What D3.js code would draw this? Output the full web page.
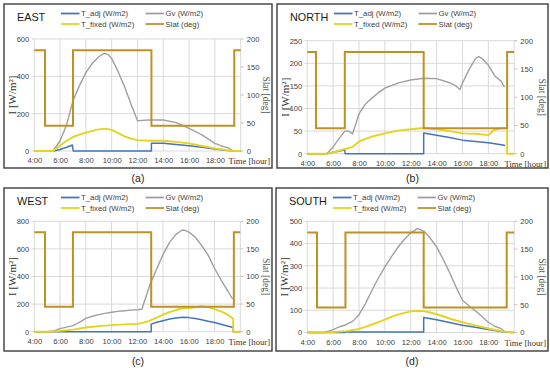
<!DOCTYPE html>
<html>
<head>
<meta charset="utf-8">
<script src="https://d3js.org/d3.v7.min.js"></script>
<style>
  body { margin: 0; background: #fff; }
  svg { display: block; }
</style>
</head>
<body>
<svg id="chart" width="550" height="368"></svg>
<script>
// ---- data: [hour, value] ----
var eastAdj = [[4,0],[5.5,0],[6,8],[6.5,20],[6.95,32],[7.02,0],[13.08,0],[13.08,42],[14,41],[15,35],[16,28],[17,20],[18,11],[19,3],[19.5,0],[20,0]];
var eastGv = [[4,0],[5.45,0],[6,55],[6.5,140],[7,270],[7.5,350],[8,420],[8.5,470],[9,505],[9.4,523],[9.7,518],[10,495],[10.5,425],[11,344],[11.5,250],[12,162],[13,167],[14,166],[15,152],[16,121],[17,86],[18,41],[18.5,27],[19,18],[19.35,5]];
var eastFixed = [[4,0],[5.45,0],[6,30],[6.5,55],[7,75],[7.5,88],[8,98],[8.5,108],[9,116],[9.5,120],[10,113],[10.5,96],[11,78],[11.5,66],[12,58],[13,55],[14,55],[15,49],[16,41],[17,27],[18,14],[19,4],[19.5,0],[20,0]];
var eastSlat = [[4,180],[4.83,180],[4.83,45],[7,45],[7,180],[13.08,180],[13.08,45],[19.5,45],[19.5,180],[20,180]];

var northAdj = [[4,0],[5.5,0],[6,3],[6.5,6],[6.9,8],[6.92,0],[13,0],[13,46],[14,41],[15,36],[16,30],[17,27],[18,24],[19,20],[19.3,18]];
var northGv = [[4,0],[5.5,0],[6,15],[6.5,35],[6.9,50],[7.2,50],[7.5,44],[8,88],[8.5,110],[9,123],[9.5,135],[10,145],[11,156],[12,163],[13,167],[14,166],[15,157],[15.5,150],[15.8,142],[16,156],[16.5,186],[17,210],[17.25,215],[17.5,211],[18,196],[18.5,172],[19,160],[19.25,147]];
var northFixed = [[4,0],[5.5,0],[6,3],[6.5,7],[7,11],[7.5,15],[8,27],[8.5,33],[9,38],[10,45],[11,51],[12,54],[13,57],[14,54],[15,50],[16,45],[17,44],[18,41],[18.4,52],[19,56],[19.45,56],[19.45,0],[20,0]];
var northSlat = [[4,180],[4.67,180],[4.67,45],[6.9,45],[6.9,180],[13,180],[13,45],[19.45,45],[19.45,180],[20,180]];

var westAdj = [[4,0],[13.08,0],[13.08,55],[13.5,68],[14,80],[14.5,92],[15,100],[15.5,104],[16,102],[16.5,95],[17,86],[17.5,76],[18,66],[18.5,54],[19,42],[19.45,30],[19.45,0],[20,0]];
var westGv = [[4,0],[5,0],[5.5,5],[6,22],[6.5,33],[7,44],[7.5,68],[8,97],[8.5,112],[9,124],[9.5,133],[10,141],[10.5,147],[11,152],[11.5,156],[12,159],[12.35,163],[13,345],[13.5,455],[14,560],[14.5,645],[15,705],[15.5,737],[15.75,733],[16,722],[16.5,685],[17,625],[17.5,555],[18,460],[18.5,375],[19,300],[19.4,237]];
var westFixed = [[4,0],[5,0],[6,6],[7,15],[8,30],[9,40],[10,48],[11,53],[12,57],[12.5,66],[13,80],[13.5,102],[14,123],[14.5,142],[15,157],[15.5,170],[16,172],[16.5,177],[17,184],[17.5,178],[18,164],[18.5,148],[19,125],[19.45,93],[19.45,0],[20,0]];
var westSlat = [[4,180],[4.83,180],[4.83,45],[7,45],[7,180],[13.08,180],[13.08,45],[19.5,45],[19.5,180],[20,180]];

var southAdj = [[4,0],[6.9,0],[6.9,2],[13,2],[13,67],[14,57],[15,45],[16,33],[17,24],[18,14],[19,5],[19.4,2],[20,0]];
var southGv = [[4,0],[5.3,0],[6,13],[6.5,26],[7,35],[7.5,50],[8,80],[8.5,130],[9,190],[9.5,245],[10,295],[10.5,340],[11,383],[11.5,418],[12,448],[12.5,467],[13,456],[13.5,425],[14,385],[14.5,330],[15,270],[15.5,205],[16,145],[16.5,120],[17,98],[17.5,72],[18,46],[18.5,28],[19,17],[19.3,3]];
var southFixed = [[4,0],[5.5,0],[6,2],[7,6],[8,16],[8.5,25],[9,36],[9.5,47],[10,58],[10.5,70],[11,80],[11.5,88],[12,95],[12.5,98],[13,96],[13.5,90],[14,82],[14.5,73],[15,63],[15.5,54],[16,46],[16.5,39],[17,32],[18,18],[19,6],[19.4,3],[20,0]];
var southSlat = [[4,180],[4.75,180],[4.75,45],[6.95,45],[6.95,180],[13,180],[13,45],[19.42,45],[19.42,180],[20,180]];

var hourTicks = [4, 6, 8, 10, 12, 14, 16, 18];
var slatTicks = [0, 50, 100, 150, 200];
var eastTicks = [0, 200, 400, 600];
var northTicks = [0, 50, 100, 150, 200, 250];
var westTicks = [0, 200, 400, 600, 800];
var southTicks = [0, 100, 200, 300, 400, 500];

var legendNames = ["T_adj (W/m2)", "Gv (W/m2)", "T_fixed (W/m2)", "Slat (deg)"];
var colors = ["#4472c4", "#a0a0a0", "#e2d51c", "#c09024"];

// ---- layout ----
var panels = [
  { title: "EAST", tag: "(a)", frame: [4, 4, 268, 164], plot: [34.3, 240.7, 39, 151], ticks: eastTicks,
    series: [eastAdj, eastGv, eastFixed], slat: eastSlat },
  { title: "NORTH", tag: "(b)", frame: [277, 4, 271, 164], plot: [307.3, 514.2, 40.7, 153.7], ticks: northTicks,
    series: [northAdj, northGv, northFixed], slat: northSlat },
  { title: "WEST", tag: "(c)", frame: [4, 188, 268, 163], plot: [34.3, 240.3, 221.3, 331.7], ticks: westTicks,
    series: [westAdj, westGv, westFixed], slat: westSlat },
  { title: "SOUTH", tag: "(d)", frame: [276, 188, 272, 163], plot: [307.3, 514.2, 221.3, 332.5], ticks: southTicks,
    series: [southAdj, southGv, southFixed], slat: southSlat }
];

var svg = d3.select("#chart");
var sans = "'Liberation Sans', Arial, sans-serif";
var serif = "'Liberation Serif', 'Times New Roman', serif";

function fmtHour(h) { return h + ":00"; }

panels.forEach(function (p) {
  var g = svg.append("g");
  var fx = p.frame[0], fy = p.frame[1];

  var x = d3.scaleLinear().domain([4, 20]).range([p.plot[0], p.plot[1]]);
  var y = d3.scaleLinear().domain([0, d3.max(p.ticks)]).range([p.plot[3], p.plot[2]]);
  var y2 = d3.scaleLinear().domain([0, 200]).range([p.plot[3], p.plot[2]]);

  // frame
  g.append("rect")
    .attr("x", fx).attr("y", fy)
    .attr("width", p.frame[2]).attr("height", p.frame[3])
    .attr("fill", "none").attr("stroke", "#3c3c3c").attr("stroke-width", 1.4);

  // grid
  g.append("g").selectAll("line").data(p.ticks).enter().append("line")
    .attr("x1", x(4) - 3).attr("x2", x(20))
    .attr("y1", function (d) { return y(d); }).attr("y2", function (d) { return y(d); })
    .attr("stroke", "#d9d9d9").attr("stroke-width", 1);
  g.append("g").selectAll("line").data(d3.range(4, 21, 2)).enter().append("line")
    .attr("x1", function (d) { return x(d); }).attr("x2", function (d) { return x(d); })
    .attr("y1", y(d3.max(p.ticks))).attr("y2", y(0))
    .attr("stroke", "#d9d9d9").attr("stroke-width", 1);
  // right ticks
  g.append("g").selectAll("line").data(slatTicks).enter().append("line")
    .attr("x1", x(20)).attr("x2", x(20) + 3)
    .attr("y1", function (d) { return y2(d); }).attr("y2", function (d) { return y2(d); })
    .attr("stroke", "#bfbfbf");

  // axis labels
  var left = d3.axisLeft(y).tickValues(p.ticks).tickSize(0).tickPadding(5);
  var la = g.append("g").attr("transform", "translate(" + x(4) + ",0)").call(left);
  var right = d3.axisRight(y2).tickValues(slatTicks).tickSize(0).tickPadding(6);
  var ra = g.append("g").attr("transform", "translate(" + x(20) + ",0)").call(right);
  var bottom = d3.axisBottom(x).tickValues(hourTicks).tickFormat(fmtHour).tickSize(0).tickPadding(7);
  var ba = g.append("g").attr("transform", "translate(0," + y(0) + ")").call(bottom);
  [la, ra, ba].forEach(function (a) {
    a.select(".domain").remove();
    a.selectAll("text").attr("font-family", sans).attr("font-size", 7.6).attr("fill", "#404040");
  });

  // axis titles
  g.append("text")
    .attr("transform", "translate(" + (fx + 11.5) + "," + ((p.plot[2] + p.plot[3]) / 2) + ") rotate(-90)")
    .attr("text-anchor", "middle").attr("font-family", serif).attr("font-size", 11)
    .attr("fill", "#333").text("I [W/m²]");
  g.append("text")
    .attr("transform", "translate(" + (fx + p.frame[2] - 9) + "," + ((p.plot[2] + p.plot[3]) / 2) + ") rotate(90)")
    .attr("text-anchor", "middle").attr("font-family", serif).attr("font-size", 9.5)
    .attr("fill", "#555").text("Slat [deg]");
  g.append("text")
    .attr("x", fx + p.frame[2] - 2).attr("y", y(0) + 13)
    .attr("text-anchor", "end").attr("font-family", serif).attr("font-size", 8.6)
    .attr("fill", "#333").text("Time [hour]");

  // series
  var line = d3.line().x(function (d) { return x(d[0]); }).y(function (d) { return y(d[1]); });
  var widths = [1.5, 1.4, 1.9];
  p.series.forEach(function (s, i) {
    g.append("path").attr("d", line(s))
      .attr("fill", "none").attr("stroke", colors[i]).attr("stroke-width", widths[i])
      .attr("stroke-linejoin", "round");
  });
  var slatLine = d3.line().x(function (d) { return x(d[0]); }).y(function (d) { return y2(d[1]); });
  g.append("path").attr("d", slatLine(p.slat))
    .attr("fill", "none").attr("stroke", colors[3]).attr("stroke-width", 2);

  // title
  g.append("text").attr("x", fx + 13).attr("y", fy + 16.5)
    .attr("font-family", sans).attr("font-size", 10.8).attr("fill", "#1a1a1a").text(p.title);

  // legend
  var lx = [fx + 57, fx + 141.5], ly = [fy + 9.5, fy + 20];
  legendNames.forEach(function (name, i) {
    var cx = lx[i % 2], cy = ly[Math.floor(i / 2)];
    g.append("line").attr("x1", cx).attr("x2", cx + 18.5).attr("y1", cy).attr("y2", cy)
      .attr("stroke", colors[i]).attr("stroke-width", 1.8);
    g.append("text").attr("x", cx + 20).attr("y", cy + 2.8)
      .attr("font-family", sans).attr("font-size", 7.8).attr("fill", "#404040").text(name);
  });

  // panel tag
  g.append("text").attr("x", fx + p.frame[2] / 2).attr("y", fy + p.frame[3] + 14)
    .attr("text-anchor", "middle").attr("font-family", sans).attr("font-size", 10.5)
    .attr("fill", "#222").text(p.tag);
});
</script>
</body>
</html>
